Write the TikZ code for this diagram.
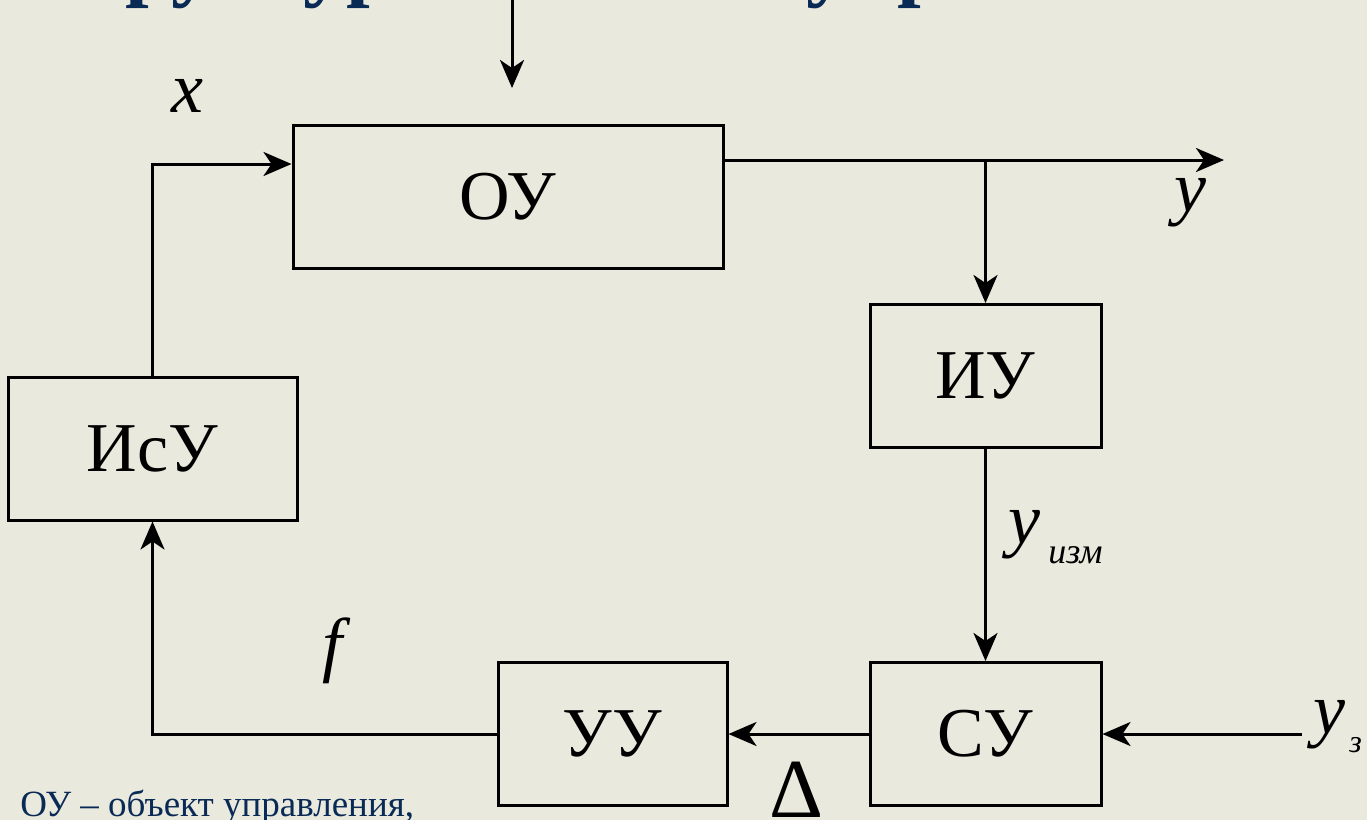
\documentclass[tikz,border=0pt]{standalone}
\usepackage{fontspec}
\setmainfont{Liberation Serif}
\usetikzlibrary{arrows.meta,calc}
\definecolor{bg}{RGB}{233,233,221}
\definecolor{navy}{RGB}{10,42,86}
\begin{document}
\begin{tikzpicture}[x=0.5pt,y=-0.5pt,
  blk/.style={draw=black, line width=1.5pt, minimum height=71.5pt, inner sep=0pt,
              font=\fontsize{35}{40}\selectfont},
  arr/.style={line width=1.5pt, -{Stealth[length=14pt,width=12pt,inset=4pt]}},
  lbl/.style={font=\fontsize{36}{40}\selectfont\itshape, inner sep=0pt, anchor=base}]
\fill[bg] (0,0) rectangle (1367,820);
\useasboundingbox (0,0) rectangle (1367,820);
\begin{scope}
\clip (0,0) rectangle (1367,820);
\node[anchor=base west, font=\fontsize{42.5}{46}\selectfont\bfseries, text=navy, inner sep=0pt] (title) at (22,-10) {Структура системы управления};
\end{scope}
% blocks
\node[blk, minimum width=215pt] (OU) at (508,196.5) {ОУ};
\node[blk, minimum width=115.5pt] (IU) at (985.5,376) {ИУ};
\node[blk, minimum width=144.5pt] (IsU) at (152.5,448.5) {ИсУ};
\node[blk, minimum width=114.5pt] (UU) at (612.5,734) {УУ};
\node[blk, minimum width=115.5pt] (SU) at (985.5,734) {СУ};
% free ends
\coordinate (topin) at (512,-10);
\coordinate (topout) at (512,88);
\coordinate (yout) at (1224,160);
\coordinate (yz) at (1302,734);
% connectors
\draw[arr] (topin) -- (topout);
\draw[arr] (IsU.north) |- ([yshift=16.25pt]OU.west);
\draw[arr] ([yshift=18.25pt]OU.east) -- (yout);
\draw[arr] (IU.north |- yout) -- (IU.north);
\draw[arr] (IU.south) -- (SU.north);
\draw[arr] (yz) -- (SU.east);
\draw[arr] (SU.west) -- (UU.east);
\draw[arr] (UU.west) -| (IsU.south);
% labels
\node[lbl] (lx) at (187,112) {x};
\node[lbl] (ly) at (1190,211) {y};
\node[lbl] (lf) at (332,668) {f};
\node[lbl, anchor=base west] (lyizm) at (1008,543) {y\kern4pt\raisebox{-10pt}{\fontsize{18}{20}\selectfont изм}};
\node[lbl, anchor=base west] (lyz) at (1313,733) {y\kern2pt\raisebox{-9.5pt}{\fontsize{16}{18}\selectfont з}};
\node[font=\fontsize{42}{46}\selectfont, inner sep=0pt, anchor=base] (delta) at (797,817) {Δ};
\node[anchor=base west, font=\fontsize{18.5}{20}\selectfont, text=navy, inner sep=0pt] (note) at (20,816) {ОУ – объект управления,};
\end{tikzpicture}
\end{document}
